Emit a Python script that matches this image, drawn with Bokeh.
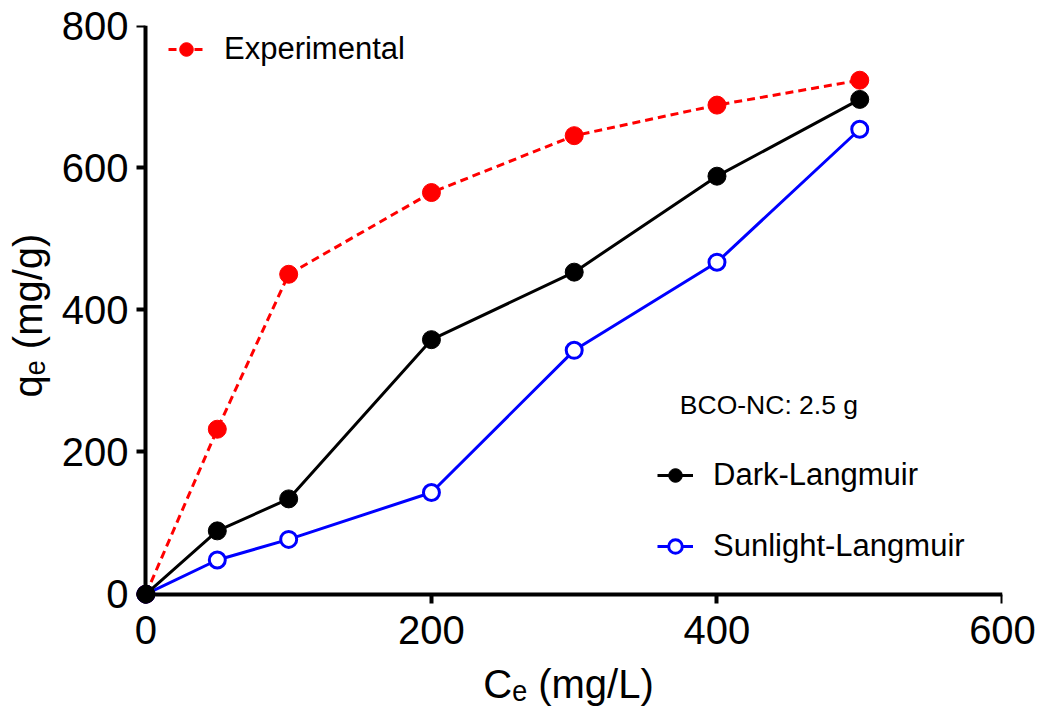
from bokeh.plotting import figure
from bokeh.models import Range1d, Legend, LegendItem, Label, FixedTicker, LinearAxis
from bokeh.embed import file_html
from bokeh.resources import INLINE

ce = [0, 50, 100, 200, 300, 400, 500]
experimental = [0, 232, 450, 565, 645, 688, 723]
dark_langmuir = [0, 89, 134, 358, 453, 588, 696]
sunlight_langmuir = [0, 48, 77, 143, 343, 467, 654]
x_ticks = [0, 200, 400, 600]
y_ticks = [0, 200, 400, 600, 800]

FONT = "Liberation Sans"

p = figure(width=1041, height=719, output_backend="svg", toolbar_location=None,
           x_range=Range1d(-8, 600), y_range=Range1d(-16, 800),
           min_border_left=134, min_border_right=39, min_border_top=25, min_border_bottom=114)
p.outline_line_color = None
p.xgrid.visible = False
p.ygrid.visible = False
p.background_fill_color = "white"
p.border_fill_color = "white"

# label-carrying axes at the frame edges (no lines / ticks)
for ax, ticks in ((p.xaxis[0], x_ticks), (p.yaxis[0], y_ticks)):
    ax.ticker = FixedTicker(ticks=ticks)
    ax.axis_line_color = None
    ax.major_tick_line_color = None
    ax.major_tick_in = 0
    ax.major_tick_out = 0
    ax.minor_tick_line_color = None
    ax.major_label_text_font = FONT
    ax.major_label_text_font_size = "40px"
    ax.major_label_text_color = "black"
    ax.axis_label_text_font = FONT
    ax.axis_label_text_font_size = "40px"
    ax.axis_label_text_font_style = "normal"
    ax.axis_label_text_color = "black"

p.xaxis[0].axis_label = "Cₑ (mg/L)"
p.yaxis[0].axis_label = "qₑ (mg/g)"
p.xaxis[0].major_label_standoff = 10
p.yaxis[0].major_label_standoff = 6
p.xaxis[0].axis_label_standoff = 15
p.yaxis[0].axis_label_standoff = 9

# drawn axes: lines and ticks passing through the origin
def line_axis(ticks, bnds):
    ax = LinearAxis(ticker=FixedTicker(ticks=ticks), bounds=bnds, fixed_location=0)
    ax.axis_line_width = 4
    ax.axis_line_color = "black"
    ax.major_tick_line_width = 4
    ax.major_tick_line_color = "black"
    ax.major_tick_in = 9
    ax.major_tick_out = 0
    ax.minor_tick_line_color = None
    ax.major_label_text_font_size = "1px"
    ax.major_label_text_alpha = 0
    ax.major_label_standoff = 0
    return ax

p.add_layout(line_axis(x_ticks, (0, 600)), "above")
p.add_layout(line_axis(y_ticks, (0, 800)), "right")

r_exp_l = p.line(ce, experimental, line_color="red", line_width=3, line_dash="8 5")
r_exp_m = p.scatter(ce, experimental, size=18, fill_color="red", line_color="red")
r_sun_l = p.line(ce, sunlight_langmuir, line_color="blue", line_width=3)
r_sun_m = p.scatter(ce, sunlight_langmuir, size=16, fill_color="white", line_color="blue", line_width=3)
r_dark_l = p.line(ce, dark_langmuir, line_color="black", line_width=3)
r_dark_m = p.scatter(ce, dark_langmuir, size=18, fill_color="black", line_color="black")

def make_legend(items, loc, spacing):
    lg = Legend(items=items, location=loc, orientation="vertical")
    lg.label_text_font = FONT
    lg.label_text_font_size = "31px"
    lg.label_text_color = "black"
    lg.glyph_width = 36
    lg.glyph_height = 34
    lg.label_height = 34
    lg.label_standoff = 20
    lg.padding = 0
    lg.margin = 0
    lg.spacing = spacing
    lg.border_line_color = None
    lg.background_fill_alpha = 0
    return lg

leg1 = make_legend([LegendItem(label="Experimental", renderers=[r_exp_l, r_exp_m])], (34, 538), 0)
leg2 = make_legend([LegendItem(label="Dark-Langmuir", renderers=[r_dark_l, r_dark_m]),
                    LegendItem(label="Sunlight-Langmuir", renderers=[r_sun_l, r_sun_m])], (523, 41), 35)
p.add_layout(leg1)
p.add_layout(leg2)

p.add_layout(Label(x=374, y=266, text="BCO-NC: 2.5 g", text_font=FONT, text_font_size="26.5px",
                   text_baseline="middle", text_align="left", text_color="black"))

open("out.html", "w").write(file_html(p, INLINE))
